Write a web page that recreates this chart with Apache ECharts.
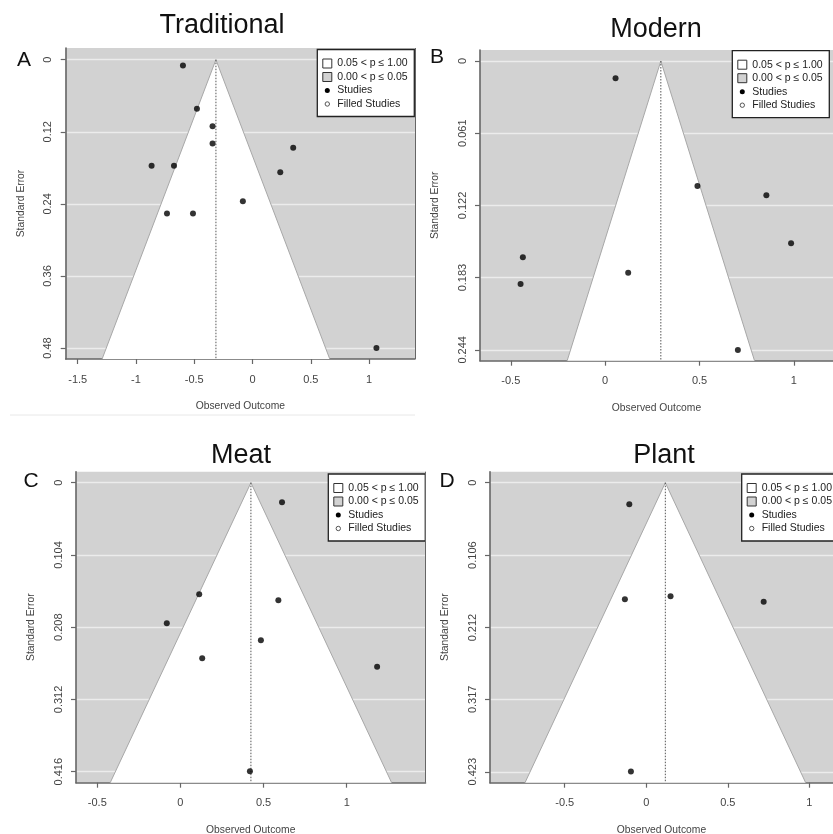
<!DOCTYPE html>
<html>
<head>
<meta charset="utf-8">
<script src="https://cdn.jsdelivr.net/npm/echarts@6/dist/echarts.min.js"></script>
<style>
  html, body { margin: 0; padding: 0; background: #fff; }
  #main { width: 833px; height: 834px; }
</style>
</head>
<body>
<div id="main"></div>
<script>
// 面板标题
const titles = ['Traditional', 'Modern', 'Meat', 'Plant'];
const letters = ['A', 'B', 'C', 'D'];

// 研究点: 观察效应 / 标准误
const tradX = [-0.597, -0.477, -0.343, -0.343, 0.349, -0.866, -0.674, 0.238, -0.083, -0.734, -0.511, 1.063];
const tradSE = [0.0095, 0.0817, 0.1106, 0.1394, 0.1467, 0.1767, 0.1767, 0.1872, 0.2356, 0.2561, 0.2561, 0.48];
const modX = [0.055, 0.489, 0.854, 0.985, -0.436, -0.448, 0.122, 0.703];
const modSE = [0.0146, 0.1056, 0.1135, 0.154, 0.1659, 0.1884, 0.1788, 0.2442];
const meatX = [0.611, 0.113, 0.589, -0.082, 0.484, 0.131, 1.183, 0.418];
const meatSE = [0.0283, 0.1607, 0.1693, 0.2024, 0.2269, 0.2528, 0.2649, 0.4155];
const plantX = [-0.104, -0.131, 0.149, 0.72, -0.094];
const plantSE = [0.0317, 0.1707, 0.1663, 0.1741, 0.4225];

// 合并效应 (漏斗中心)
const centers = [-0.314, 0.295, 0.424, 0.117];

// 坐标轴刻度
const xTicks = [
  [-1.5, -1, -0.5, 0, 0.5, 1],
  [-0.5, 0, 0.5, 1],
  [-0.5, 0, 0.5, 1],
  [-0.5, 0, 0.5, 1]
];
const yTicks = [
  [0, 0.12, 0.24, 0.36, 0.48],
  [0, 0.061, 0.122, 0.183, 0.244],
  [0, 0.104, 0.208, 0.312, 0.416],
  [0, 0.106, 0.212, 0.317, 0.423]
];
const xRange = [[-1.603, 1.394], [-0.663, 1.207], [-0.628, 1.474], [-0.958, 1.145]];
const yRange = [[-0.0195, 0.4983], [-0.0093, 0.2532], [-0.0158, 0.4318], [-0.0161, 0.439]];

const legendNames = ['0.05 < p \u2264 1.00', '0.00 < p \u2264 0.05', 'Studies', 'Filled Studies'];

// 布局 (px)
const grids = [
  { left: 65.7, top: 48, width: 349.3, height: 311 },
  { left: 480, top: 50, width: 353, height: 310.7 },
  { left: 76, top: 471.7, width: 349.5, height: 311 },
  { left: 490, top: 471.7, width: 343, height: 311 }
];
const legendPos = [[317.3, 49.5], [732.3, 50.7], [328.3, 474], [741.7, 474]];
const titlePos = [[222, 25.8], [656, 30], [241, 455.2], [664, 455.2]];
const letterPos = [[24, 60], [437, 57.5], [31, 481.5], [447, 481]];

const FONT = '"Liberation Sans", Arial, sans-serif';
const GREY = '#d2d2d2';
const AXIS = '#444';
const AXIS_LINE = '#666';

const points = [
  tradX.map((x, i) => [x, tradSE[i]]),
  modX.map((x, i) => [x, modSE[i]]),
  meatX.map((x, i) => [x, meatSE[i]]),
  plantX.map((x, i) => [x, plantSE[i]])
];

const chart = echarts.init(document.getElementById('main'), null, { renderer: 'canvas' });

const xAxis = [];
const yAxis = [];
const series = [];
const graphic = [];

grids.forEach((g, i) => {
  xAxis.push({
    gridIndex: i,
    type: 'value',
    min: xRange[i][0],
    max: xRange[i][1],
    name: 'Observed Outcome',
    nameLocation: 'middle',
    nameGap: 42,
    nameTextStyle: { fontFamily: FONT, fontSize: 10.3, color: AXIS },
    axisLine: { show: true, onZero: false, lineStyle: { color: AXIS_LINE, width: 1.6 } },
    axisTick: { show: true, length: 5, customValues: xTicks[i], lineStyle: { color: AXIS_LINE, width: 1.2 } },
    axisLabel: { customValues: xTicks[i], margin: 15, fontFamily: FONT, fontSize: 11, color: AXIS },
    splitLine: { show: false }
  });
  yAxis.push({
    gridIndex: i,
    type: 'value',
    inverse: true,
    min: yRange[i][0],
    max: yRange[i][1],
    name: 'Standard Error',
    nameLocation: 'middle',
    nameGap: 40,
    nameTextStyle: { fontFamily: FONT, fontSize: 10.3, color: AXIS },
    axisLine: { show: true, onZero: false, lineStyle: { color: AXIS_LINE, width: 1.6 } },
    axisTick: { show: true, length: 5, customValues: yTicks[i], lineStyle: { color: AXIS_LINE, width: 1.2 } },
    axisLabel: { customValues: yTicks[i], rotate: 90, margin: 12, fontFamily: FONT, fontSize: 11, color: AXIS },
    splitLine: { show: true, lineStyle: { color: '#ececec', width: 1.3 } }
  });

  // 漏斗区域
  series.push({
    type: 'custom',
    name: legendNames[0],
    xAxisIndex: i,
    yAxisIndex: i,
    z: 1,
    silent: true,
    data: [[centers[i], yRange[i][1]]],
    renderItem: (params, api) => {
      const c = api.value(0);
      const s = api.value(1);
      const apex = api.coord([c, 0]);
      const bl = api.coord([c - 1.96 * s, s]);
      const br = api.coord([c + 1.96 * s, s]);
      return {
        type: 'group',
        children: [
          { type: 'polygon', shape: { points: [apex, bl, br] }, style: { fill: '#fff' } },
          { type: 'polyline', shape: { points: [bl, apex, br] }, style: { stroke: '#a8a8a8', lineWidth: 1, fill: null } },
          {
            type: 'line',
            shape: { x1: apex[0], y1: apex[1], x2: apex[0], y2: bl[1] },
            style: { stroke: '#555', lineWidth: 1, lineDash: [1.5, 1.5] }
          }
        ]
      };
    }
  });

  // 研究点
  series.push({
    type: 'scatter',
    name: 'Studies',
    xAxisIndex: i,
    yAxisIndex: i,
    z: 3,
    symbolSize: 6,
    itemStyle: { color: '#000' },
    data: points[i]
  });

  // 标题和字母
  graphic.push({
    type: 'text',
    x: titlePos[i][0],
    y: titlePos[i][1],
    style: { text: titles[i], font: '27px ' + FONT, fill: '#111', align: 'center', verticalAlign: 'middle' }
  });
  graphic.push({
    type: 'text',
    x: letterPos[i][0],
    y: letterPos[i][1],
    style: { text: letters[i], font: '21px ' + FONT, fill: '#111', align: 'center', verticalAlign: 'middle' }
  });

  // 图例
  const rows = [14, 27.5, 41, 54.5];
  const items = [
    { type: 'rect', shape: { x: 0, y: 0, width: 97, height: 67 }, style: { fill: '#fff', stroke: '#222', lineWidth: 1.3 } },
    { type: 'rect', shape: { x: 5.5, y: rows[0] - 4.5, width: 9, height: 9 }, style: { fill: '#fff', stroke: '#333', lineWidth: 1 } },
    { type: 'rect', shape: { x: 5.5, y: rows[1] - 4.5, width: 9, height: 9 }, style: { fill: GREY, stroke: '#333', lineWidth: 1 } },
    { type: 'circle', shape: { cx: 10, cy: rows[2], r: 2.5 }, style: { fill: '#000' } },
    { type: 'circle', shape: { cx: 10, cy: rows[3], r: 2.2 }, style: { fill: '#fff', stroke: '#555', lineWidth: 1 } }
  ].concat(legendNames.map((t, k) => ({
    type: 'text',
    x: 20,
    y: rows[k],
    style: { text: t, font: '10.5px ' + FONT, fill: '#222', verticalAlign: 'middle' }
  })));
  items.forEach(el => { el.z = 100; });
  graphic.push({
    type: 'group',
    x: legendPos[i][0],
    y: legendPos[i][1],
    z: 100,
    children: items
  });
});

// 左侧两图的右边框
graphic.push({ type: 'line', z: 100, shape: { x1: 415.5, y1: 48, x2: 415.5, y2: 359 }, style: { stroke: '#666', lineWidth: 1 } });
graphic.push({ type: 'line', z: 100, shape: { x1: 425.5, y1: 471.7, x2: 425.5, y2: 782.7 }, style: { stroke: '#666', lineWidth: 1 } });
graphic.push({ type: 'line', shape: { x1: 10, y1: 415, x2: 415, y2: 415 }, style: { stroke: '#e8e8e8', lineWidth: 1 } });

chart.setOption({
  animation: false,
  backgroundColor: '#fff',
  grid: grids.map(g => Object.assign({ show: true, backgroundColor: GREY, borderWidth: 0, containLabel: false, outerBoundsMode: 'none' }, g)),
  xAxis,
  yAxis,
  series,
  graphic
});
</script>
</body>
</html>
